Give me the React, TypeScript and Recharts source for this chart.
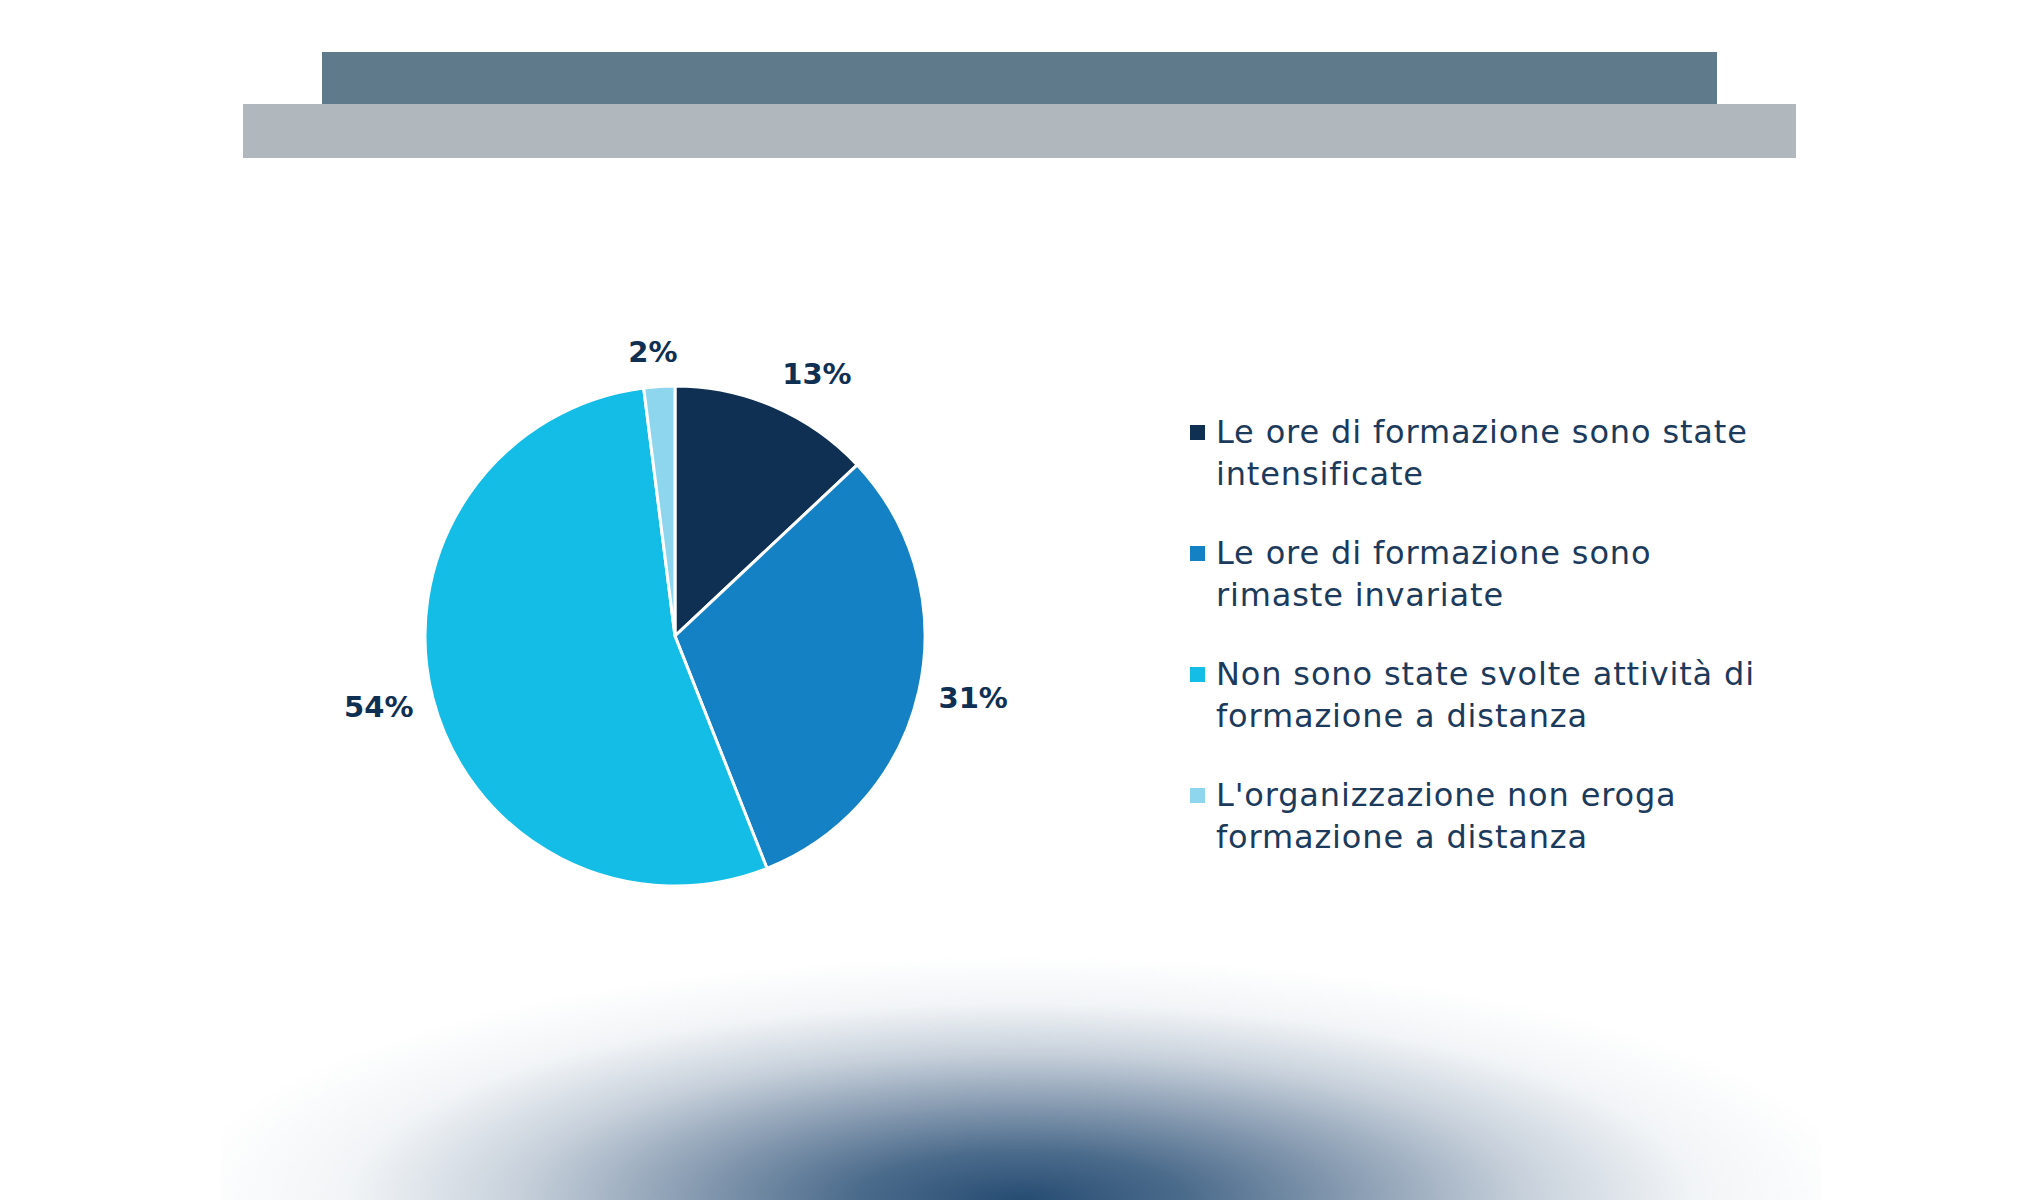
import { PieChart, Pie, Cell, Legend } from 'recharts';

const categories = [
  'Le ore di formazione sono state intensificate',
  'Le ore di formazione sono rimaste invariate',
  'Non sono state svolte attività di formazione a distanza',
  "L'organizzazione non eroga formazione a distanza",
];
const legendLines = [
  ['Le ore di formazione sono state', 'intensificate'],
  ['Le ore di formazione sono', 'rimaste invariate'],
  ['Non sono state svolte attività di', 'formazione a distanza'],
  ["L'organizzazione non eroga", 'formazione a distanza'],
];
const percentuali = [13, 31, 54, 2];
const colori = ['#0f3052', '#1481c4', '#13bde5', '#8dd6ee'];

const data = categories.map((name, i) => ({ name, value: percentuali[i] }));

const FONT = '"DejaVu Sans", sans-serif';
const RAD = Math.PI / 180;
const LABEL_SIZE = 29;

const clamp = (v: number) => Math.max(-1, Math.min(1, v));

// etichette "esterno alla fine": il riquadro del testo si appoggia al cerchio r = outerRadius + 20
function renderLabel(props: any) {
  const { cx, cy, midAngle, outerRadius, value } = props;
  const testo = `${value}%`;
  const w = ((testo.length - 1) * 0.696 + 1.002) * LABEL_SIZE;
  const h = 30;
  const cos = Math.cos(-midAngle * RAD);
  const sin = Math.sin(-midAngle * RAD);
  const r = outerRadius + 20;
  const x = cx + r * cos + clamp(cos / 0.3) * (w / 2);
  const y = cy + r * sin + sin * (h / 2);
  return (
    <text
      x={x}
      y={y}
      textAnchor="middle"
      dominantBaseline="central"
      fill="#0f3052"
      fontFamily={FONT}
      fontWeight={700}
      fontSize={LABEL_SIZE}
    >
      {testo}
    </text>
  );
}

function Legenda() {
  return (
    <div style={{ fontFamily: FONT, color: '#1b3a5c', fontSize: 32, letterSpacing: 0.85 }}>
      {legendLines.map((righe, i) => (
        <div key={i} style={{ position: 'relative', paddingLeft: 26, marginBottom: 37, lineHeight: '42px' }}>
          <span
            style={{
              position: 'absolute',
              left: 0,
              top: 14,
              width: 15,
              height: 15,
              background: colori[i],
            }}
          />
          <div>{righe[0]}</div>
          <div>{righe[1]}</div>
        </div>
      ))}
    </div>
  );
}

export default function App() {
  return (
    <div style={{ position: 'absolute', left: 0, top: 0, width: 2040, height: 1200, background: '#fff', overflow: 'hidden' }}>
      <div style={{ position: 'absolute', left: 322, top: 52, width: 1395, height: 53, background: '#5e7a8b' }} />
      <div style={{ position: 'absolute', left: 243, top: 104, width: 1553, height: 54, background: '#b0b7bd' }} />
      <div
        style={{
          position: 'absolute',
          left: 221,
          top: 940,
          width: 1600,
          height: 260,
          background:
            'radial-gradient(ellipse 840px 245px at 50% 100%, rgba(38,76,114,1) 0%, rgba(45,82,120,0.85) 20%, rgba(60,92,128,0.6) 40%, rgba(95,122,152,0.35) 60%, rgba(150,170,190,0.13) 80%, rgba(255,255,255,0) 100%)',
        }}
      />
      <div style={{ position: 'absolute', left: 0, top: 0 }}>
        <PieChart width={2040} height={1200}>
          <Pie
            data={data}
            dataKey="value"
            nameKey="name"
            cx={670}
            cy={631}
            outerRadius={250}
            startAngle={90}
            endAngle={-270}
            stroke="#ffffff"
            strokeWidth={3}
            label={renderLabel}
            labelLine={false}
            isAnimationActive={false}
          >
            {data.map((d, i) => (
              <Cell key={d.name} fill={colori[i]} />
            ))}
          </Pie>
          <Legend
            content={<Legenda />}
            layout="vertical"
            wrapperStyle={{ left: 1190, top: 411, width: 720 }}
          />
        </PieChart>
      </div>
    </div>
  );
}
